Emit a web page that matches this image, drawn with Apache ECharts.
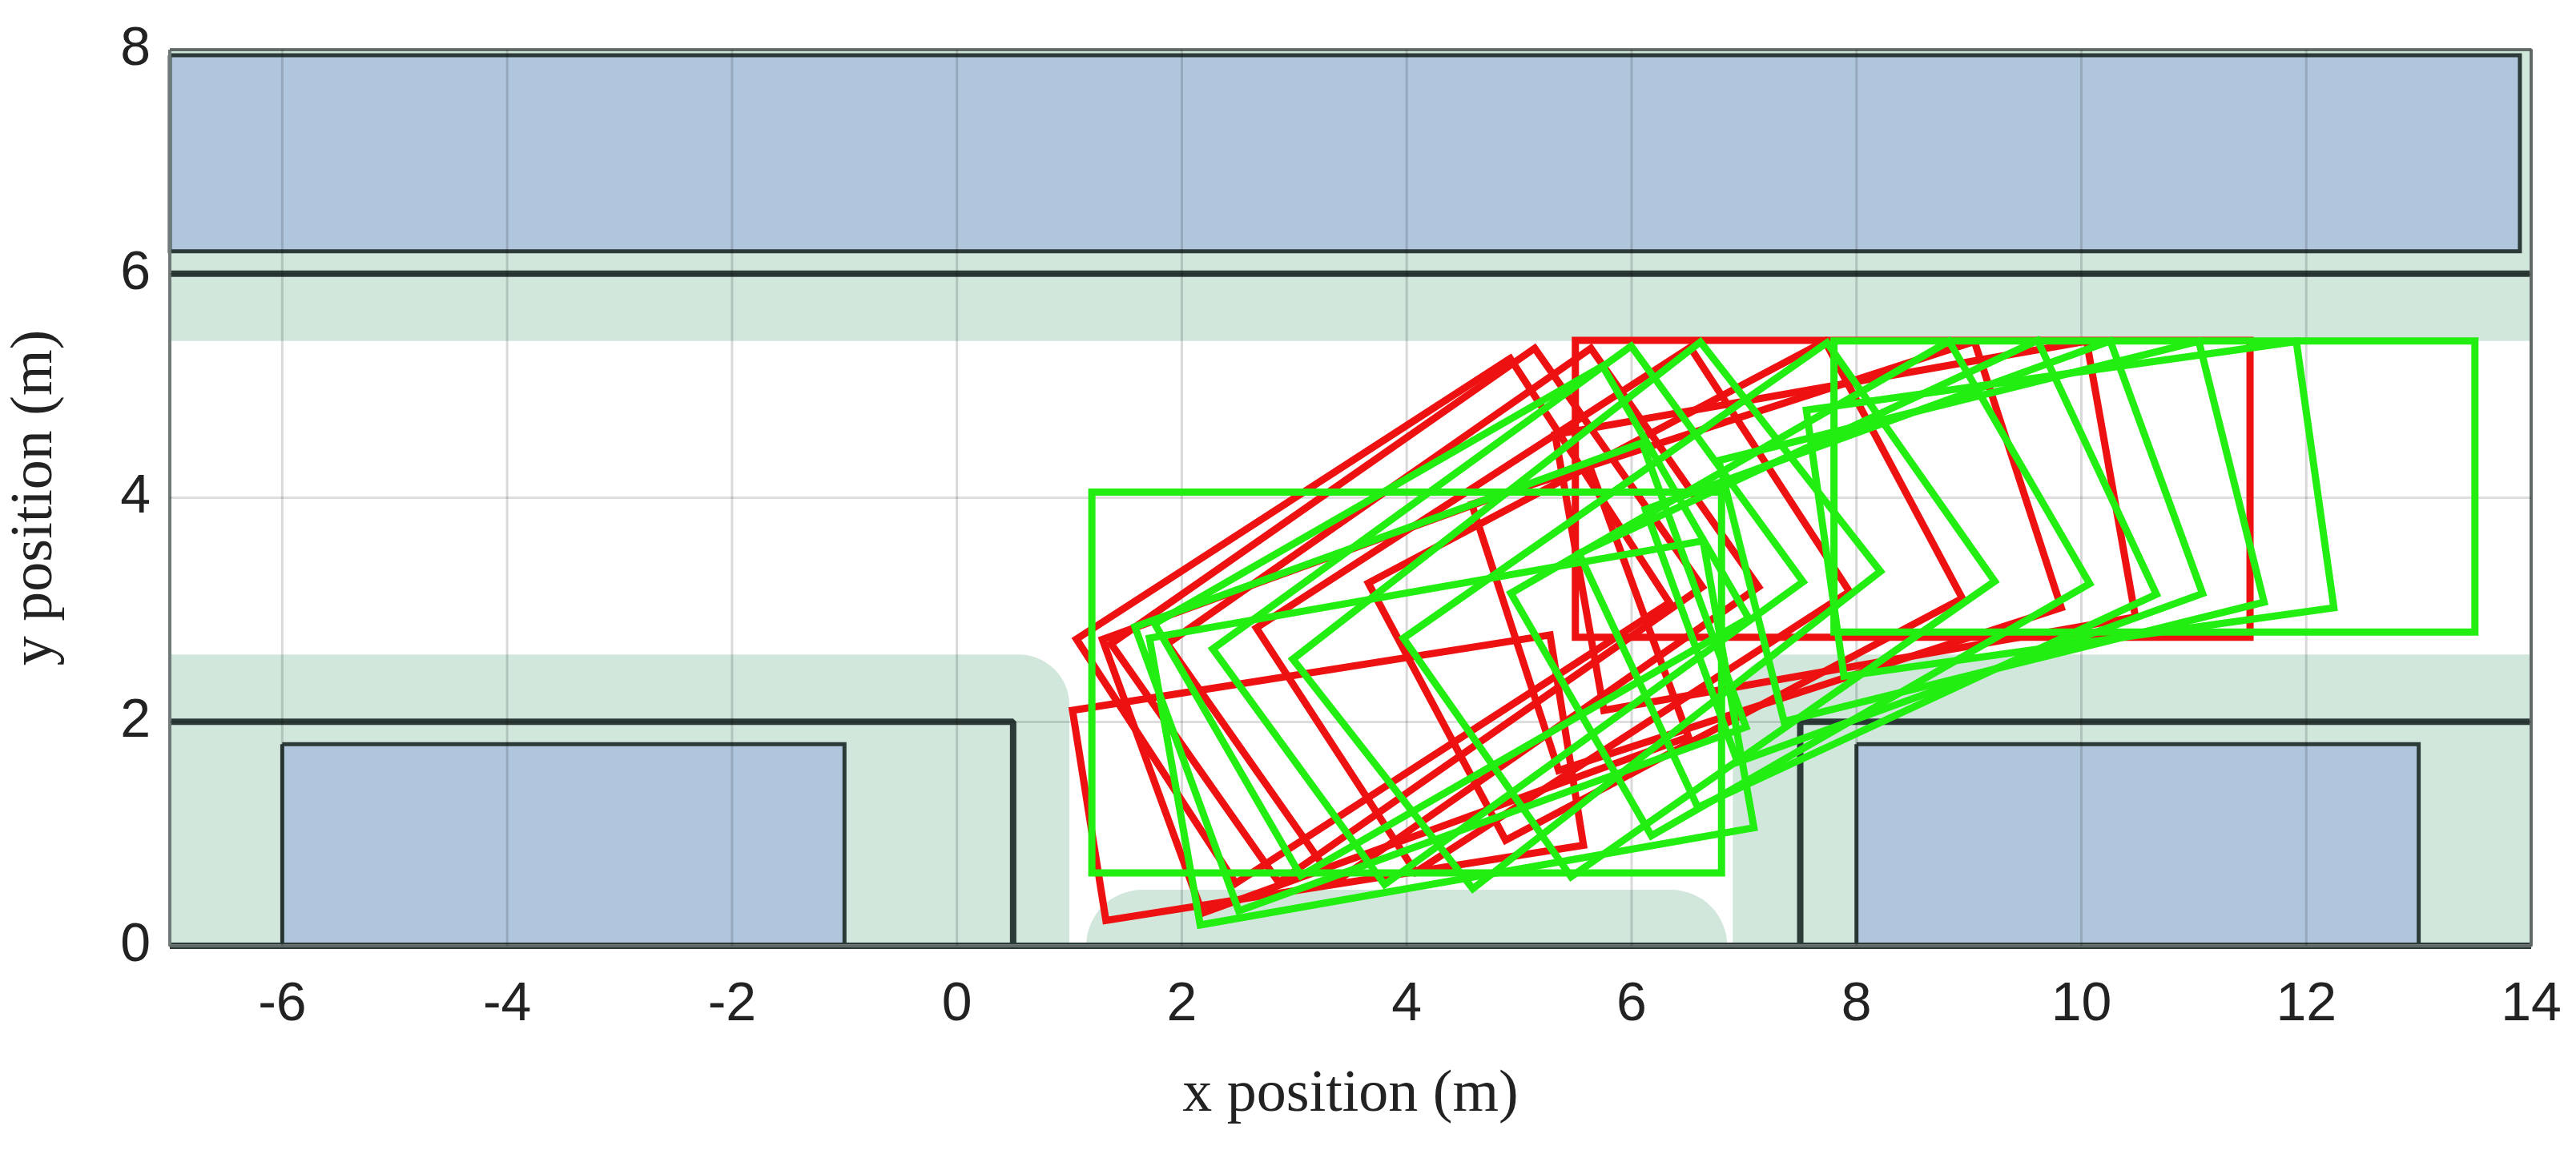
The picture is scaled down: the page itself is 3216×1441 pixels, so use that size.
<!DOCTYPE html>
<html><head><meta charset="utf-8">
<script src="https://cdn.jsdelivr.net/npm/echarts@6/dist/echarts.min.js"></script>
<style>html,body{margin:0;background:#fff}#c{width:3216px;height:1441px}</style>
</head><body><div id="c"></div>
<script>
// poses: [cx, cy, headingDeg, length, width]
const redPoses = [
  [8.5,4.08,0,6.0,2.65],[7.9,3.75,10,4.8,2.5],[7.2,3.48,18,4.7,2.5],[6.3,3.17,28,4.6,2.6],
  [5.3,3.0,33,4.6,2.6],[4.5,2.95,35,4.6,2.6],[4.0,2.95,35,4.6,2.6],[3.7,2.9,33,4.6,2.6],
  [3.9,2.3,20,4.6,2.6],[3.3,1.5,9,4.3,1.9]
];
const greenPoses = [
  [10.65,4.1,0,5.7,2.6],[9.9,3.9,8,4.4,2.4],[9.2,3.7,14,4.4,2.4],[8.6,3.52,20,4.4,2.4],
  [8.1,3.32,25,4.5,2.5],[7.5,3.19,30,4.5,2.5],[6.6,3.0,35,4.6,2.6],[5.6,2.95,38,4.6,2.6],
  [4.9,2.95,36,4.6,2.6],[4.4,2.9,30,4.6,2.6],[4.3,2.4,20,4.8,2.7],[4.4,1.9,10,5.0,2.6],
  [4.0,2.35,0,5.6,3.4]
];
// zones: [x1,y1,x2,y2,radiusTL,radiusTR]
const greenZones = [
  [-7,5.4,14,8,0,0],[-7,0,1.0,2.6,0,0.45],[1.15,0,6.85,0.5,0.5,0.5],[6.9,0,14,2.6,0.45,0]
];
const blueZones = [[-7,6.2,13.9,7.95],[-6,0,-1,1.8],[8,0,13,1.8]];
const darkLines = [
  [[-7,6],[14,6]],[[-7,2],[0.5,2],[0.5,0]],[[7.5,0],[7.5,2],[14,2]],[[-7,0],[14,0]]
];
const xTicks = [-6,-4,-2,0,2,4,6,8,10,12,14];

const chart = echarts.init(document.getElementById('c'));
function rectRender(list, fill, stroke, lw){
  return function(params, api){
    const z = list[params.dataIndex];
    const p1 = api.coord([z[0], z[3]]), p2 = api.coord([z[2], z[1]]);
    const sx = api.size([1,1])[0];
    const r = [ (z[4]||0)*sx, (z[5]||0)*sx, 0, 0 ];
    return {type:'rect', shape:{x:p1[0], y:p1[1], width:p2[0]-p1[0], height:p2[1]-p1[1], r:r},
      style:{fill:fill, stroke:stroke, lineWidth:lw}};
  };
}
function poseRender(list, color){
  return function(params, api){
    const p = list[params.dataIndex];
    const a = p[2]*Math.PI/180, c = Math.cos(a), s = Math.sin(a);
    const hl = p[3]/2, hw = p[4]/2;
    const pts = [[hl,hw],[-hl,hw],[-hl,-hw],[hl,-hw]].map(q =>
      api.coord([p[0]+q[0]*c-q[1]*s, p[1]+q[0]*s+q[1]*c]));
    return {type:'polygon', shape:{points:pts}, style:{fill:'none', stroke:color, lineWidth:9, lineJoin:'miter'}};
  };
}
chart.setOption({
  animation:false,
  grid:{left:210, right:56, top:62, bottom:260, containLabel:false},
  xAxis:{type:'value', min:-7, max:14, interval:1, z:1,
    name:'x position (m)', nameLocation:'middle', nameGap:150,
    nameTextStyle:{fontFamily:'Liberation Serif', fontSize:74, color:'#222'},
    axisLine:{show:false}, axisTick:{show:false},
    axisLabel:{fontFamily:'Liberation Sans', fontSize:68, color:'#222', margin:40,
      formatter:v => (v%2===0) ? String(v) : ''},
    splitLine:{show:false}},
  yAxis:{type:'value', min:0, max:8, interval:2, z:1,
    name:'y position (m)', nameLocation:'middle', nameGap:130,
    nameTextStyle:{fontFamily:'Liberation Serif', fontSize:74, color:'#222'},
    axisLine:{show:false}, axisTick:{show:false},
    axisLabel:{fontFamily:'Liberation Sans', fontSize:68, color:'#222', margin:24},
    splitLine:{show:true, lineStyle:{color:'rgba(0,0,0,0.13)', width:3}}},
  series:[
    {type:'custom', z:0, data:greenZones.map((_,i)=>i), renderItem:rectRender(greenZones,'#d1e7dc','none',0), silent:true},
    {type:'custom', z:0, data:blueZones.map((_,i)=>i), renderItem:rectRender(blueZones,'#b0c6dd','#2d3b38',5), silent:true},
    ...darkLines.map(l => ({type:'line', z:0, data:l, symbol:'none', lineStyle:{color:'#2d3b38', width:8}, silent:true})),
    {type:'line', z:0, data:[[-7,8],[14,8],[14,0],[-7,0],[-7,8]], symbol:'none', lineStyle:{color:'#707a78', width:4}, silent:true},
    {type:'custom', z:0, data:xTicks.map((_,i)=>i), silent:true, renderItem:function(params, api){
      const v = xTicks[params.dataIndex];
      const p0 = api.coord([v,0]), p1 = api.coord([v,8]);
      return {type:'line', shape:{x1:p0[0],y1:p0[1],x2:p1[0],y2:p1[1]}, z2:50, style:{stroke:'rgba(0,0,0,0.15)', lineWidth:3}};
    }},
    {type:'custom', z:3, data:redPoses.map((_,i)=>i), renderItem:poseRender(redPoses,'#ee1111')},
    {type:'custom', z:4, data:greenPoses.map((_,i)=>i), renderItem:poseRender(greenPoses,'#22ee11')}
  ]
});
</script></body></html>
